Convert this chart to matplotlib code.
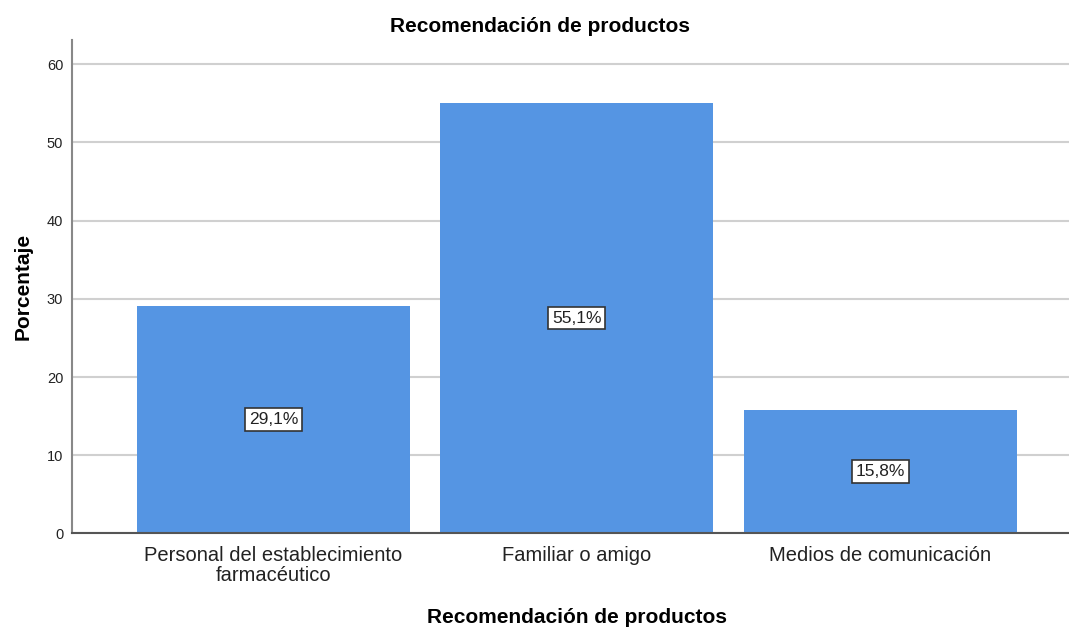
import numpy as np
import matplotlib.pyplot as plt

plt.rcParams['font.family'] = ['Liberation Sans', 'DejaVu Sans']

categorias = ["Personal del establecimiento\nfarmacéutico", "Familiar o amigo", "Medios de comunicación"]
porcentajes = [29.1, 55.1, 15.8]
etiquetas = ["29,1%", "55,1%", "15,8%"]
yticks = [0, 10, 20, 30, 40, 50, 60]

fig = plt.figure(figsize=(10.69, 6.28), dpi=100)
ax = fig.add_axes([0.0669, 0.1505, 0.9331, 0.7858])

x = np.arange(len(categorias))
ax.bar(x, porcentajes, width=0.9, color='#5595e3', zorder=2)

for xi, v, lab in zip(x, porcentajes, etiquetas):
    ax.text(xi, v / 2, lab, ha='center', va='center', fontsize=12.5, color='#222222', zorder=3,
            bbox=dict(boxstyle='square,pad=0.22', fc='white', ec='#333333', lw=1.2))

ax.set_xlim(-0.666, 2.623)
ax.set_ylim(0, 63.1)
ax.set_yticks(yticks)
ax.set_xticks(x)
ax.set_xticklabels(categorias, fontsize=14.5, color='#222222', linespacing=1.1)
ax.tick_params(axis='y', length=0, pad=6, labelsize=10.5, labelcolor='#222222')
ax.tick_params(axis='x', length=0, pad=9)
ax.yaxis.grid(True, color='#d0d0d0', lw=1.5, zorder=0)
ax.set_axisbelow(True)

for s in ['top', 'right']:
    ax.spines[s].set_visible(False)
ax.spines['left'].set_color('#888888')
ax.spines['left'].set_linewidth(1.5)
ax.spines['bottom'].set_color('#555555')
ax.spines['bottom'].set_linewidth(1.5)

ax.set_ylabel("Porcentaje", fontsize=15, fontweight='bold', labelpad=10)
fig.text(0.540, 0.0175, "Recomendación de productos", ha='center', va='center',
         fontsize=15, fontweight='bold')
fig.text(0.505, 0.958, "Recomendación de productos", ha='center', va='center',
         fontsize=15, fontweight='bold')

fig.savefig("out.png", dpi=100)
